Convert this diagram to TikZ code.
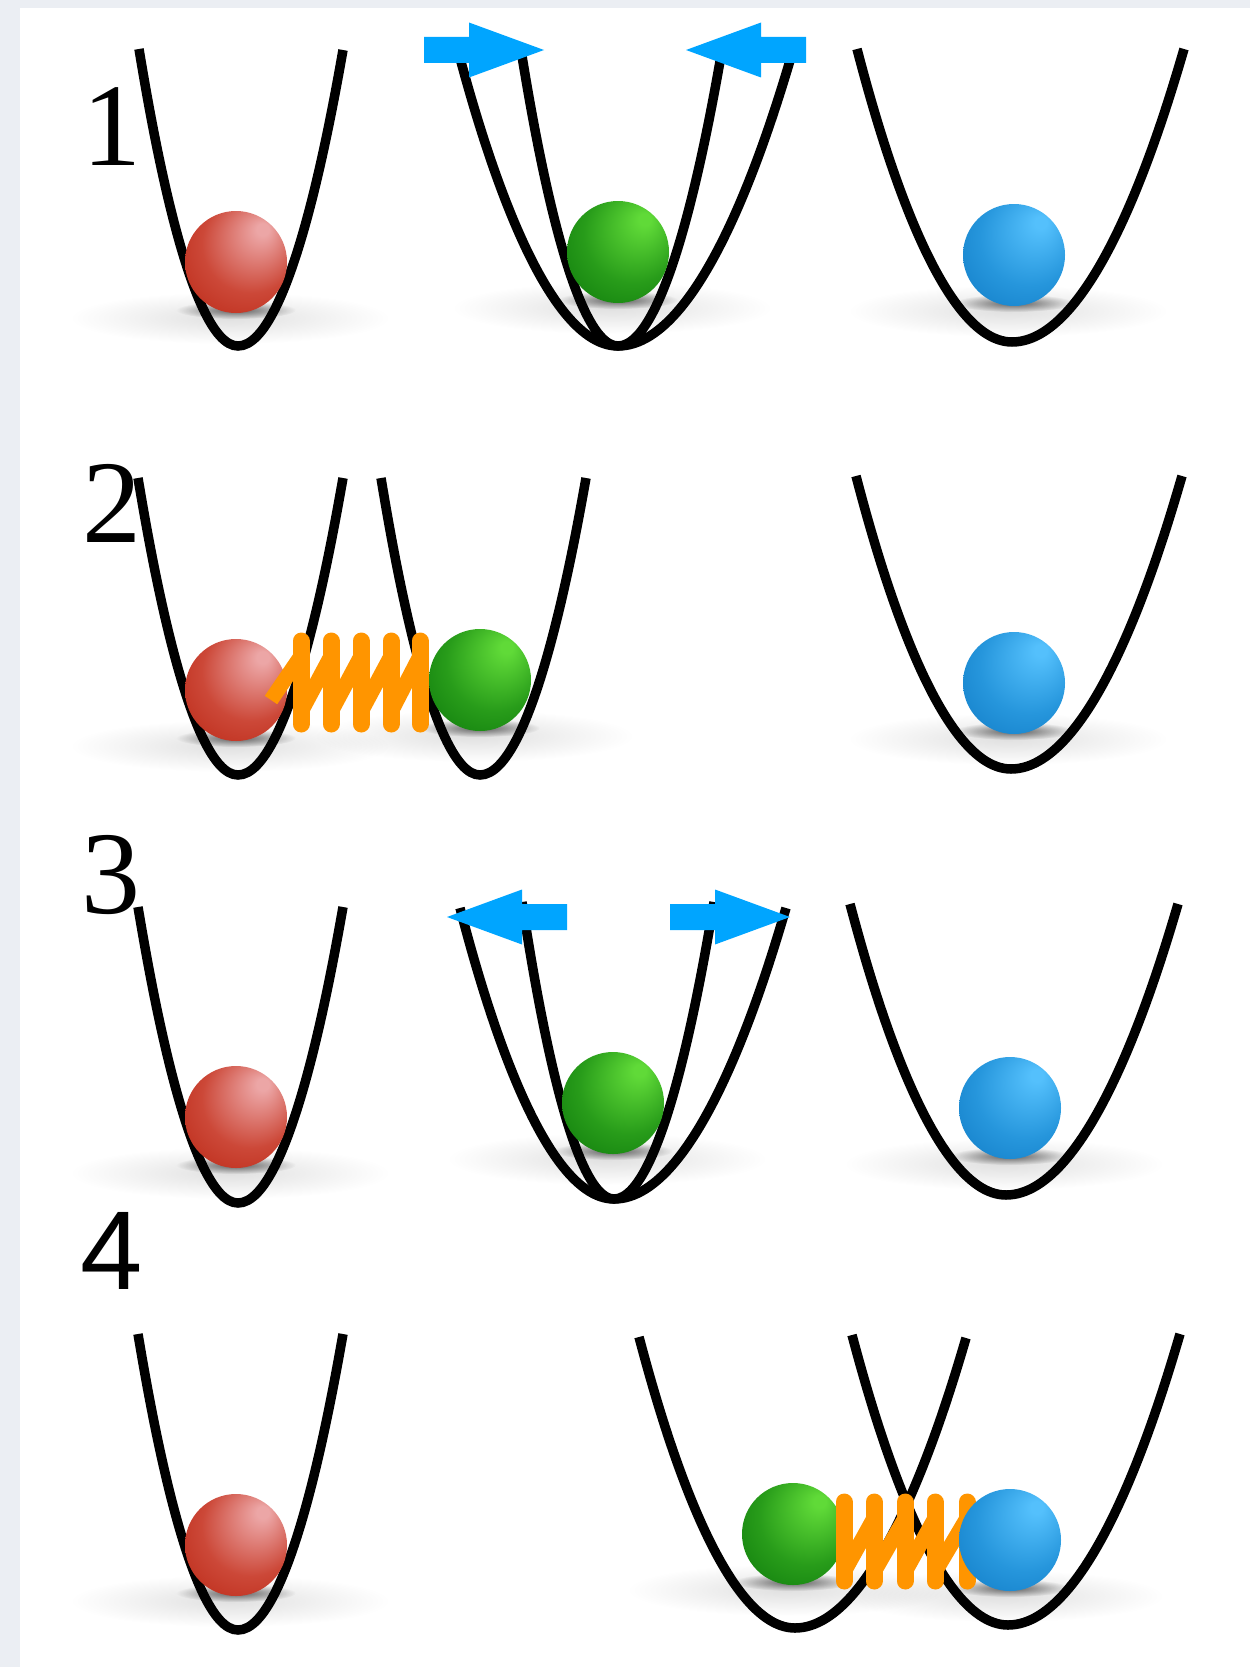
\documentclass[tikz,border=0pt]{standalone}
\usepackage{fontspec}
\setmainfont{Liberation Serif}
\newfontfamily\digitsans{Liberation Sans}
\usetikzlibrary{fadings,calc}

\definecolor{pagegray}{RGB}{235,238,243}
\definecolor{pushblue}{RGB}{0,165,255}
\definecolor{springorange}{RGB}{255,149,0}
\definecolor{redA}{RGB}{236,166,166}
\definecolor{redB}{RGB}{204,72,56}
\definecolor{redC}{RGB}{178,22,2}
\definecolor{greenA}{RGB}{96,218,56}
\definecolor{greenB}{RGB}{40,156,26}
\definecolor{greenC}{RGB}{0,104,4}
\definecolor{blueA}{RGB}{84,192,252}
\definecolor{blueB}{RGB}{38,150,220}
\definecolor{blueC}{RGB}{6,110,186}

% spheres lit from the upper right
\pgfdeclareradialshading{redball}{\pgfpoint{14bp}{17bp}}{color(0bp)=(redA); color(3bp)=(redA); color(24bp)=(redB); color(50bp)=(redC)}
\pgfdeclareradialshading{greenball}{\pgfpoint{14bp}{17bp}}{color(0bp)=(greenA); color(3bp)=(greenA); color(24bp)=(greenB); color(50bp)=(greenC)}
\pgfdeclareradialshading{blueball}{\pgfpoint{14bp}{17bp}}{color(0bp)=(blueA); color(3bp)=(blueA); color(24bp)=(blueB); color(50bp)=(blueC)}

% opaque centre, transparent rim
\tikzfading[name=softspot, inner color=transparent!0, outer color=transparent!100]

\begin{document}
\begin{tikzpicture}[x=1pt,y=-1pt,
  well/.style={black, line width=9.5pt, line cap=butt},
  coil/.style={springorange, line width=17pt, line cap=round},
  coillink/.style={springorange, line width=15pt, line cap=butt},
  steplabel/.style={inner sep=0pt, font=\fontsize{118}{118}\selectfont},
  pics/pusharrow/.style={code={
    \fill[pushblue] (0,-13) -- (45,-13) -- (45,-27.5) -- (120,0) -- (45,27.5) -- (45,13) -- (0,13) -- cycle;}},
  pics/shadow/.style={code={
    \fill[black, opacity=.12, path fading=softspot] (-6,56) ellipse [x radius=160pt, y radius=26pt];
    \fill[black, opacity=.6, path fading=softspot] (0,48) ellipse [x radius=60pt, y radius=9pt];}},
  pics/ball/.style={code={\shade[shading=#1] (0,0) circle [radius=51pt];}},
]
\useasboundingbox (0,0) rectangle (1250,1667);
\fill[pagegray] (0,0) rectangle (1250,1667);
\fill[white] (20,8) rectangle (1250,1667);

% step numbers
\node[steplabel] (n1) at (112,127) {1};
\node[steplabel] (n2) at (112,503) {2};
\node[steplabel] (n3) at (111,875) {3};
\node[steplabel, font=\digitsans\fontsize{112}{112}\selectfont] (n4) at (112,1251) {4};

% ---------- potential wells ----------
% row 1
\coordinate (a1L) at (139,49);  \coordinate (a1B) at (238,346);  \coordinate (a1R) at (343,50);
\coordinate (b1L) at (457,47);  \coordinate (b1B) at (618,346);  \coordinate (b1R) at (794,47);
\coordinate (c1L) at (521,50);  \coordinate (c1B) at (618,346);  \coordinate (c1R) at (722,50);
\coordinate (d1L) at (857,49);  \coordinate (d1B) at (1012,342); \coordinate (d1R) at (1184,49);
% row 2
\coordinate (a2L) at (138,478); \coordinate (a2B) at (238,775);  \coordinate (a2R) at (343,478);
\coordinate (b2L) at (381,478); \coordinate (b2B) at (480,775);  \coordinate (b2R) at (586,478);
\coordinate (d2L) at (856,476); \coordinate (d2B) at (1011,769); \coordinate (d2R) at (1182,476);
% row 3
\coordinate (a3L) at (138,907); \coordinate (a3B) at (238,1203); \coordinate (a3R) at (343,907);
\coordinate (b3L) at (460,908); \coordinate (b3B) at (614,1199); \coordinate (b3R) at (786,908);
\coordinate (c3L) at (522,902); \coordinate (c3B) at (614,1199); \coordinate (c3R) at (714,902);
\coordinate (d3L) at (850,904); \coordinate (d3B) at (1006,1195); \coordinate (d3R) at (1178,904);
% row 4
\coordinate (a4L) at (138,1334); \coordinate (a4B) at (238,1630); \coordinate (a4R) at (343,1334);
\coordinate (b4L) at (639,1337); \coordinate (b4B) at (795,1628); \coordinate (b4R) at (966,1338);
\coordinate (d4L) at (852,1335); \coordinate (d4B) at (1008,1625); \coordinate (d4R) at (1180,1334);

\foreach \w in {a1,b1,c1,d1,a2,b2,d2,a3,b3,c3,d3,a4,b4,d4}
  \draw[well] (\w L) parabola bend (\w B) (\w R);

% ---------- ball positions ----------
\coordinate (red1) at (236,262);   \coordinate (green1) at (618,252);  \coordinate (blue1) at (1014,255);
\coordinate (red2) at (236,690);   \coordinate (green2) at (480,680);  \coordinate (blue2) at (1014,683);
\coordinate (red3) at (236,1117);  \coordinate (green3) at (613,1103); \coordinate (blue3) at (1010,1108);
\coordinate (red4) at (236,1545);  \coordinate (green4) at (793,1534); \coordinate (blue4) at (1010,1540);

% soft shadows under the balls
\foreach \b in {red1,green1,blue1,red2,green2,blue2,red3,green3,blue3,red4,green4,blue4}
  \pic at (\b) {shadow};

% ---------- row 1 ----------
\pic at (red1) {ball=redball};
\pic at (green1) {ball=greenball};
\pic at (blue1) {ball=blueball};
\pic at (424,50) {pusharrow};
\pic[xscale=-1] at (806,50) {pusharrow};

% ---------- row 2 ----------
\pic at (red2) {ball=redball};
\pic at (blue2) {ball=blueball};
\draw[coillink] (271,700) -- (301,656);
\foreach \a/\b in {301/331,331/361,361/391,391/420}
  \draw[coillink] (\a,712) -- (\b,656);
\foreach \x in {301,331,361,391,420}
  \draw[coil] (\x,641) -- (\x,724);
\pic at (green2) {ball=greenball};

% ---------- row 3 ----------
\pic at (red3) {ball=redball};
\pic at (green3) {ball=greenball};
\pic at (blue3) {ball=blueball};
\pic[xscale=-1] at (567,917) {pusharrow};
\pic at (670,917) {pusharrow};

% ---------- row 4 ----------
\pic at (red4) {ball=redball};
\pic at (green4) {ball=greenball};
\foreach \a/\b in {844/874,874/905,905/935,935/967}
  \draw[coillink] (\a,1572) -- (\b,1518);
\foreach \x in {844,874,905,935,967}
  \draw[coil] (\x,1502) -- (\x,1581);
\pic at (blue4) {ball=blueball};
\end{tikzpicture}
\end{document}
